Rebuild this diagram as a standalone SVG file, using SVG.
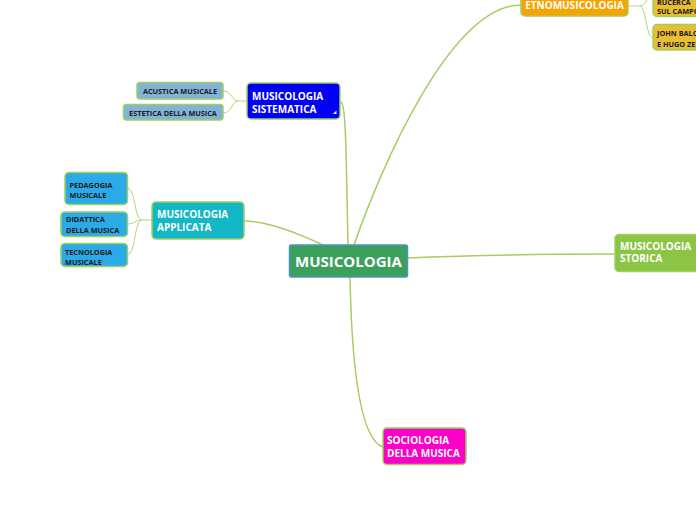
<svg xmlns="http://www.w3.org/2000/svg" width="696" height="520" viewBox="0 0 696 520">
<style>
.n{stroke:#9fcf5e;stroke-width:1.5}
.t{font-family:"Open Sans","Noto Sans","Liberation Sans",sans-serif;font-weight:700;fill:#ffffff}
.m{font-size:10px}
.s{font-size:7.3px;fill:#1a1a1a}
.c{fill:none;stroke:#a6cd60;stroke-width:1.5;stroke-linecap:round}
.c2{fill:none;stroke:#b5d67a;stroke-width:1}
</style>
<rect width="696" height="520" fill="#ffffff"/>
<g id="connectors">
<path class="c" d="M348,245 C346,150 346,104 341,102"/>
<path class="c" d="M354,245 C380,170 450,5 521,5"/>
<path class="c" d="M323,245 C300,234 270,221 244,221"/>
<path class="c" d="M407,258 C480,255 550,254 615,254"/>
<path class="c" d="M350,277 C352,380 362,440 383,447"/>
<path class="c2" d="M247,101 L238,101 M238,101 C232,101 232,91 223,91 M238,101 C232,101 232,113 223,113"/>
<path class="c2" d="M152,220 L142,220 M142,220 C134,220 136,188 127,188 M142,220 C134,220 136,224 127,224 M142,220 C134,220 136,255 127,255"/>
<path class="c2" d="M628,6 L640,6 M640,6 C646,6 646,-3 653,-3 M640,6 C646,6 646,38 653,38"/>
</g>
<g id="node-musicologia">
<rect x="289.5" y="245" width="118" height="32" rx="2" fill="#3ba05c" stroke="#4d93c4" stroke-width="1.5"/>
<text class="t" x="348.5" y="266.5" font-size="15" text-anchor="middle">MUSICOLOGIA</text>
</g>
<g id="node-sistematica">
<rect class="n" x="247" y="83" width="93" height="36" rx="4" fill="#0000f5"/>
<text class="t m" x="252" y="100">MUSICOLOGIA</text>
<text class="t m" x="252" y="112.5">SISTEMATICA</text>
<polygon points="336.5,110.5 336.5,114 333,114" fill="#ffffff"/>
</g>
<g id="node-acustica">
<rect class="n" x="137" y="82.5" width="86" height="16.5" rx="3" fill="#82b3d7"/>
<text class="t s" x="180" y="94" font-size="7" text-anchor="middle">ACUSTICA MUSICALE</text>
</g>
<g id="node-estetica">
<rect class="n" x="123.5" y="104.5" width="99.5" height="15.5" rx="3" fill="#82b3d7"/>
<text class="t s" x="173" y="115.7" font-size="7" text-anchor="middle">ESTETICA DELLA MUSICA</text>
</g>
<g id="node-applicata">
<rect class="n" x="152" y="202" width="92" height="37" rx="4" fill="#14b7c6"/>
<text class="t m" x="157" y="218.3">MUSICOLOGIA</text>
<text class="t m" x="157" y="230.7">APPLICATA</text>
</g>
<g id="node-pedagogia">
<rect class="n" x="65" y="172.5" width="62.5" height="32" rx="4" fill="#2aaae6"/>
<text class="t s" x="69.5" y="187.7">PEDAGOGIA</text>
<text class="t s" x="69.5" y="197.7">MUSICALE</text>
</g>
<g id="node-didattica">
<rect class="n" x="61" y="212" width="66.5" height="24.5" rx="4" fill="#2aaae6"/>
<text class="t s" x="66" y="222.3">DIDATTICA</text>
<text class="t s" x="66" y="232.7">DELLA MUSICA</text>
</g>
<g id="node-tecnologia">
<rect class="n" x="61" y="243.5" width="66.5" height="23" rx="4" fill="#2aaae6"/>
<text class="t s" x="65" y="255">TECNOLOGIA</text>
<text class="t s" x="65" y="265">MUSICALE</text>
</g>
<g id="node-etno">
<rect class="n" x="521" y="-10" width="107" height="26" rx="4" fill="#f7a300"/>
<text class="t m" x="574.5" y="9" text-anchor="middle">ETNOMUSICOLOGIA</text>
</g>
<g id="node-ricerca">
<rect class="n" x="653" y="-14" width="60" height="30.5" rx="4" fill="#e8bf33"/>
<text class="t s" x="657" y="4.5">RUCERCA</text>
<text class="t s" x="657" y="14.3">SUL CAMPO</text>
</g>
<g id="node-john">
<rect class="n" x="653" y="24.5" width="60" height="25.5" rx="4" fill="#e8bf33"/>
<text class="t s" x="657" y="36">JOHN BALCKING</text>
<text class="t s" x="657" y="46.7">E HUGO ZEMP</text>
</g>
<g id="node-storica">
<rect class="n" x="615" y="234.5" width="90" height="37" rx="4" fill="#8cc444"/>
<text class="t m" x="620" y="250">MUSICOLOGIA</text>
<text class="t m" x="620" y="262.3">STORICA</text>
</g>
<g id="node-sociologia">
<rect class="n" x="383" y="428" width="83" height="36.5" rx="4" fill="#fb00c8"/>
<text class="t m" x="387" y="444.3">SOCIOLOGIA</text>
<text class="t m" x="387" y="456.7">DELLA MUSICA</text>
</g>
</svg>
